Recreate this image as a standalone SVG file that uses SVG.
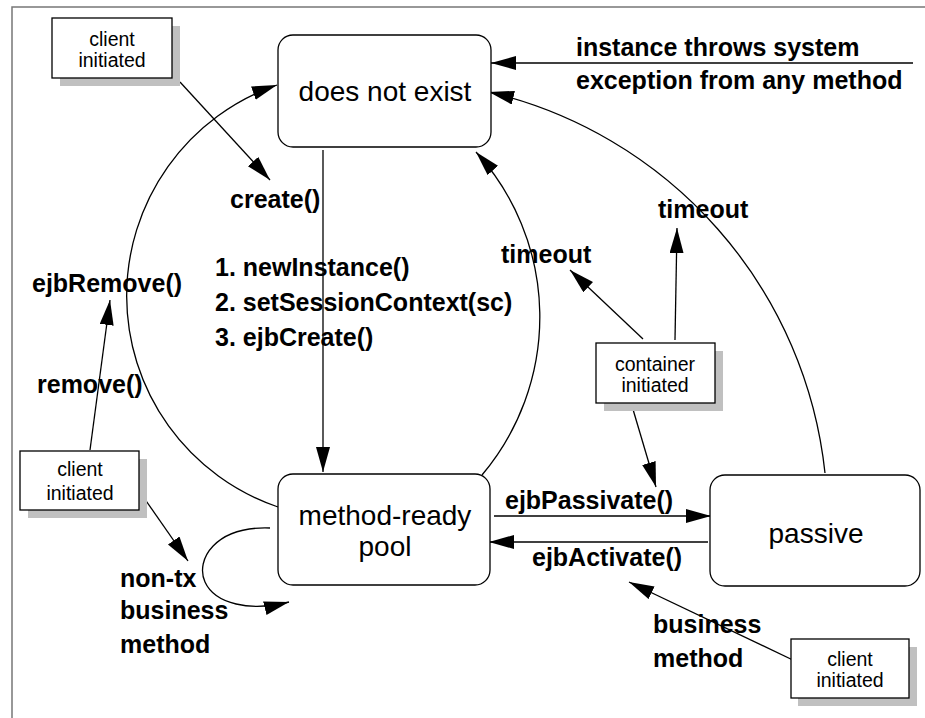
<svg xmlns="http://www.w3.org/2000/svg" width="925" height="718" viewBox="0 0 925 718">
<style>
.state{fill:#fff;stroke:#000;stroke-width:1.3}
.note{fill:#fff;stroke:#000;stroke-width:1.3}
.shadow{fill:#c0c0c0;stroke:none}
.st{font-family:"Liberation Sans",Arial,sans-serif;font-size:28px;fill:#000;text-anchor:middle}
.nt{font-family:"Liberation Sans",Arial,sans-serif;font-size:19.5px;fill:#000;text-anchor:middle}
.lb{font-family:"Liberation Sans",Arial,sans-serif;font-size:25px;font-weight:bold;fill:#000}
.c{fill:none;stroke:#000;stroke-width:1.3;marker-end:url(#ah)}
.cn{fill:none;stroke:#000;stroke-width:1.3}
</style>
<defs>
<marker id="ah" markerUnits="userSpaceOnUse" markerWidth="26" markerHeight="16" refX="25" refY="7" orient="auto">
<path d="M0,0 L25,7 L0,14 z" fill="#000"/>
</marker>
</defs>
<rect x="0" y="0" width="925" height="718" fill="#fff"/>
<rect x="12" y="7" width="1000" height="1000" fill="none" stroke="#777" stroke-width="1.5"/>

<g id="connectors">
<path class="c" d="M180,82 L270,180"/>
<path class="c" d="M278,507 A223,223 0 0 1 277,85"/>
<path class="c" d="M323,150 L323,472"/>
<path class="c" d="M482,475 A245,245 0 0 0 476,152"/>
<path class="c" d="M825,473 A439,439 0 0 0 489,92"/>
<path class="c" d="M913,63 L491,63"/>
<path class="c" d="M643,339 L570,270"/>
<path class="c" d="M675,340 L677,228"/>
<path class="c" d="M632,406 L656,487"/>
<path class="c" d="M494,516 L711,516"/>
<path class="c" d="M708,542 L489,542"/>
<path class="c" d="M797,662 L629,582"/>
<path class="c" d="M90,450 L110,300"/>
<path class="c" d="M142,495 L188,561"/>
<path class="c" d="M270,528 C215,526 195,560 205,582 C215,604 250,612 289,602"/>
</g>

<g id="lbl-exception">
<text class="lb" x="576" y="56">instance throws system</text>
<text class="lb" x="576" y="89">exception from any method</text>
</g>
<g id="lbl-create"><text class="lb" x="230" y="208">create()</text></g>
<g id="lbl-steps">
<text class="lb" x="215" y="276">1. newInstance()</text>
<text class="lb" x="215" y="311">2. setSessionContext(sc)</text>
<text class="lb" x="215" y="346">3. ejbCreate()</text>
</g>
<g id="lbl-ejbremove"><text class="lb" x="32" y="292">ejbRemove()</text></g>
<g id="lbl-remove"><text class="lb" x="37" y="393">remove()</text></g>
<g id="lbl-timeout1"><text class="lb" x="501" y="263">timeout</text></g>
<g id="lbl-timeout2"><text class="lb" x="658" y="218">timeout</text></g>
<g id="lbl-passivate"><text class="lb" x="505" y="509">ejbPassivate()</text></g>
<g id="lbl-activate"><text class="lb" x="532" y="566">ejbActivate()</text></g>
<g id="lbl-business">
<text class="lb" x="653" y="633">business</text>
<text class="lb" x="653" y="667">method</text>
</g>
<g id="lbl-nontx">
<text class="lb" x="120" y="587">non-tx</text>
<text class="lb" x="120" y="619">business</text>
<text class="lb" x="120" y="653">method</text>
</g>

<g id="does-not-exist">
<rect class="state" x="278" y="35" width="213" height="112" rx="15"/>
<text class="st" x="385" y="101">does not exist</text>
</g>
<g id="method-ready-pool">
<rect class="state" x="278" y="474" width="212" height="111" rx="15"/>
<text class="st" x="385" y="525">method-ready</text>
<text class="st" x="385" y="556">pool</text>
</g>
<g id="passive">
<rect class="state" x="710" y="475" width="210" height="111" rx="15"/>
<text class="st" x="816" y="543">passive</text>
</g>

<g id="client-initiated-1">
<rect class="shadow" x="60" y="26" width="120" height="60"/>
<rect class="note" x="52" y="18" width="120" height="60"/>
<text class="nt" x="112" y="46">client</text>
<text class="nt" x="112" y="67">initiated</text>
</g>
<g id="container-initiated">
<rect class="shadow" x="604" y="351" width="119" height="60"/>
<rect class="note" x="596" y="343" width="119" height="60"/>
<text class="nt" x="655" y="371">container</text>
<text class="nt" x="655" y="392">initiated</text>
</g>
<g id="client-initiated-2">
<rect class="shadow" x="28" y="459" width="119" height="59"/>
<rect class="note" x="20" y="451" width="119" height="59"/>
<text class="nt" x="80" y="476">client</text>
<text class="nt" x="80" y="500">initiated</text>
</g>
<g id="client-initiated-3">
<rect class="shadow" x="798" y="647" width="119" height="59"/>
<rect class="note" x="791" y="639" width="118" height="59"/>
<text class="nt" x="850" y="666">client</text>
<text class="nt" x="850" y="687">initiated</text>
</g>
</svg>
